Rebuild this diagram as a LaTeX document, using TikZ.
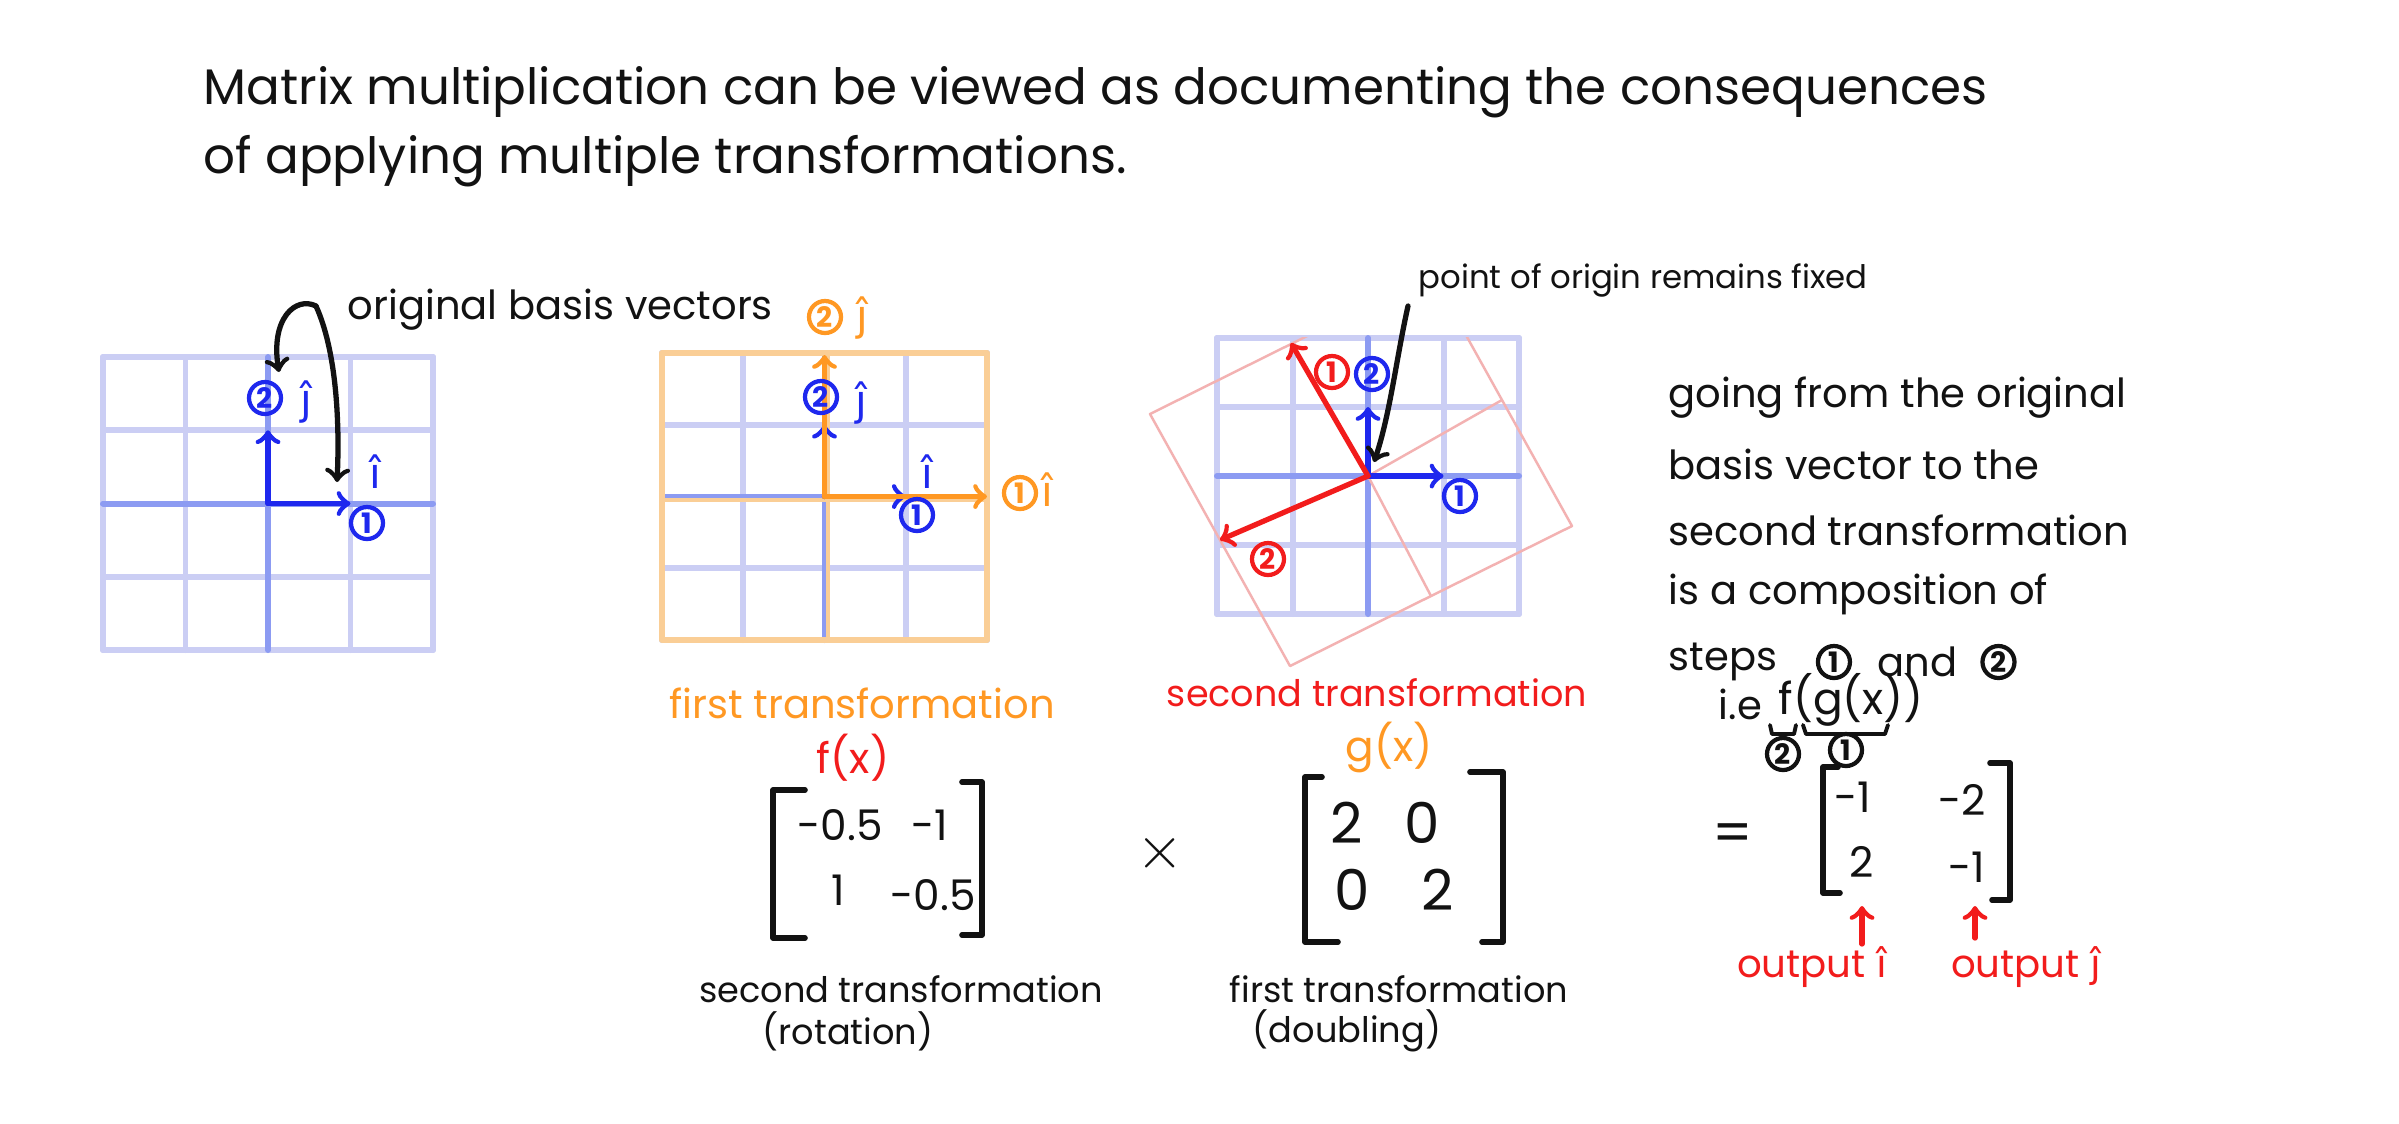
\documentclass[tikz,border=0pt]{standalone}
\usepackage{fontspec}
\setmainfont{Poppins}
\newfontfamily\hatfont{DejaVu Sans}
\usepackage{xcolor}
\usetikzlibrary{arrows}
\usetikzlibrary{math, positioning}
\definecolor{gridblue}{RGB}{203,206,244}
\definecolor{axisblue}{RGB}{140,155,242}
\definecolor{vecblue}{RGB}{30,40,238}
\definecolor{myorange}{RGB}{255,152,35}
\definecolor{lightorange}{RGB}{250,206,150}
\definecolor{myred}{RGB}{242,28,28}
\definecolor{mypink}{RGB}{243,178,178}
\definecolor{ink}{RGB}{18,18,18}

\tikzset{
  gridln/.style={gridblue, line width=1.7pt, line cap=round},
  axisln/.style={axisblue, line width=1.7pt, line cap=round},
  vec/.style={->, line width=1.5pt, line cap=round},
  inkarrow/.style={->, ink, line width=1.5pt, line cap=round},
  bracketln/.style={ink, line width=1.6pt, line cap=round, line join=round},
  circnum/.style={circle, draw, line width=1.2pt, minimum size=0.32cm, inner sep=0pt, font=\fontsize{8}{8}\selectfont\bfseries},
  lbl/.style={ink, font=\fontsize{10}{12}\selectfont, inner sep=0pt},
  biglbl/.style={ink, font=\fontsize{11.4}{13}\selectfont, inner sep=0pt},
  hatlbl/.style={font=\hatfont\fontsize{12}{12}\selectfont, inner sep=0pt},
  entry/.style={ink, font=\fontsize{12}{12}\selectfont, inner sep=0pt},
  bigentry/.style={ink, font=\fontsize{16}{16}\selectfont, inner sep=0pt},
}

\begin{document}
\begin{tikzpicture}[x=0.01cm, y=-0.01cm]
\fill[white] (0,0) rectangle (2399,1123);
\useasboundingbox (0,0) rectangle (2399,1123);

% heading
\node[lbl, anchor=west, font=\fontsize{14.2}{16}\selectfont] (head1) at (203,92) {Matrix multiplication can be viewed as documenting the consequences};
\node[lbl, anchor=west, font=\fontsize{14.2}{16}\selectfont] (head2) at (203,161) {of applying multiple transformations.};

% the three 4x4 grids
\foreach \gx/\gy/\cw/\ch in {103/357/82.5/73.25, 662/353/81.25/71.75, 1217/338/75.5/69}{
  \foreach \k in {0,...,4}{
    \draw[gridln] (\gx+\k*\cw, \gy) -- (\gx+\k*\cw, \gy+4*\ch);
    \draw[gridln] (\gx, \gy+\k*\ch) -- (\gx+4*\cw, \gy+\k*\ch);
  }
  \draw[axisln] (\gx+2*\cw, \gy) -- (\gx+2*\cw, \gy+4*\ch);
  \draw[axisln] (\gx, \gy+2*\ch) -- (\gx+4*\cw, \gy+2*\ch);
}

% grid 1
\coordinate (o1) at (268,503.5);
\coordinate (i1) at (350.5,503.5);
\coordinate (j1) at (268,430.25);
\draw[vec, vecblue] (o1) -- (i1);
\draw[vec, vecblue] (o1) -- (j1);
\node[circnum, vecblue] (j1num) at (265,398) {2};
\node[hatlbl, vecblue] (j1hat) at (306,402) {ĵ};
\node[hatlbl, vecblue] (i1hat) at (375,472) {î};
\node[circnum, vecblue] (i1num) at (367,523) {1};

\node[biglbl, anchor=west] (basis) at (347,310) {original basis vectors};
\coordinate (bstart) at (316,306);
\coordinate (bj) at (279,372);
\coordinate (bi) at (337,482);
\draw[inkarrow] (bstart) .. controls (296,296) and (270,318) .. (bj);
\draw[inkarrow] (bstart) .. controls (336,350) and (340,420) .. (bi);

% grid 2
\draw[lightorange, line width=1.3pt] (662,500) -- (987,500);
\draw[lightorange, line width=1.3pt] (828,353) -- (828,640);
\draw[lightorange, line width=1.8pt, line join=round] (662,353) rectangle (987,640);
\coordinate (o2) at (824.5,496.5);
\coordinate (i2) at (905.75,496.5);
\coordinate (j2) at (824.5,424.75);
\coordinate (i2o) at (987,496.5);
\coordinate (j2o) at (824.5,355);
\draw[vec, vecblue] (o2) -- (i2);
\draw[vec, vecblue] (o2) -- (j2);
\draw[vec, myorange] (o2) -- (i2o);
\draw[vec, myorange] (o2) -- (j2o);
\node[circnum, vecblue] (j2num) at (821,397) {2};
\node[hatlbl, vecblue] (j2hat) at (861,403) {ĵ};
\node[hatlbl, vecblue] (i2hat) at (927,472) {î};
\node[circnum, vecblue] (i2num) at (917,515) {1};
\node[circnum, myorange] (i2onum) at (1020,493) {1};
\node[hatlbl, myorange] (i2ohat) at (1047,490) {î};
\node[circnum, myorange] (j2onum) at (825,317) {2};
\node[hatlbl, myorange] (j2ohat) at (862,318) {ĵ};

% grid 3
\coordinate (o3) at (1368,476);
\begin{scope}
\clip (1100,337) rectangle (1650,720);
\draw[mypink, line width=0.7pt, line join=round] (1150,414) -- (1432,274) -- (1572,526) -- (1290,666) -- cycle;
\draw[mypink, line width=0.7pt] (o3) -- (1502,400);
\draw[mypink, line width=0.7pt] (o3) -- (1431,596);
\end{scope}
\coordinate (i3) at (1443.5,476);
\coordinate (j3) at (1368,407);
\coordinate (r1) at (1291,343);
\coordinate (r2) at (1220,540);
\draw[vec, vecblue] (o3) -- (i3);
\draw[vec, vecblue] (o3) -- (j3);
\draw[vec, myred] (o3) -- (r1);
\draw[vec, myred] (o3) -- (r2);
\node[circnum, vecblue] (j3num) at (1372,374) {2};
\node[circnum, vecblue] (i3num) at (1460,496) {1};
\node[circnum, myred] (r1num) at (1332,372) {1};
\node[circnum, myred] (r2num) at (1268,559) {2};

\node[lbl, anchor=west, font=\fontsize{9.2}{11}\selectfont] (fixed) at (1418,280) {point of origin remains fixed};
\coordinate (fstart) at (1408,306);
\coordinate (ftip) at (1374,462);
\draw[inkarrow] (fstart) .. controls (1396,360) and (1390,415) .. (ftip);

% explanation
\node[biglbl, anchor=west] (para1) at (1668,398) {going from the original};
\node[biglbl, anchor=west] (para2) at (1668,464) {basis vector to the};
\node[biglbl, anchor=west] (para3) at (1668,530) {second transformation};
\node[biglbl, anchor=west] (para4) at (1668,594) {is a composition of};
\node[biglbl, anchor=west] (para5) at (1668,662) {steps};
\node[circnum, ink, right=0.38cm of para5] (stepone) {1};
\node[biglbl, right=0.25cm of stepone] (stepand) {and};
\node[circnum, ink, right=0.22cm of stepand] (steptwo) {2};

\node[biglbl, anchor=west] (ie) at (1718,704) {i.e};
\node[biglbl, anchor=west, font=\fontsize{12.5}{13}\selectfont] (fgx) at (1778,700) {f(g(x))};
\draw[bracketln, line width=1.1pt] (1770,725) -- (1772,734) -- (1794,734) -- (1796,725);
\draw[bracketln, line width=1.1pt] (1803,725) -- (1806,734) -- (1885,734) -- (1888,725);
\node[circnum, ink] (fcirc) at (1783,754) {2};
\node[circnum, ink] (gcirc) at (1846,750) {1};

% result
\node[bigentry] (eq) at (1733,838) {=};
\draw[bracketln] (1838,767) -- (1823,767) -- (1823,893) -- (1840,893);
\draw[bracketln] (1990,763) -- (2010,763) -- (2010,900) -- (1992,900);
\node[entry] (c11) at (1853,797) {-1};
\node[entry] (c12) at (1962,800) {-2};
\node[entry] (c21) at (1862,862) {2};
\node[entry] (c22) at (1967,867) {-1};
\node[lbl, myred, font=\fontsize{11}{12}\selectfont] (outi) at (1812,967) {output {\hatfont î}};
\node[lbl, myred, font=\fontsize{11}{12}\selectfont] (outj) at (2026,967) {output {\hatfont ĵ}};
\coordinate (ai0) at (1862,944);
\coordinate (ai) at (1862,906);
\coordinate (aj0) at (1975,938);
\coordinate (aj) at (1975,906);
\draw[vec, myred] (ai0) -- (ai);
\draw[vec, myred] (aj0) -- (aj);

% rotation matrix
\node[biglbl, myorange] (firstlbl) at (862,703) {first transformation};
\node[lbl, myred, font=\fontsize{12}{14}\selectfont] (fx) at (853,758) {f(x)};
\draw[bracketln] (805,790) -- (773,790) -- (773,938) -- (805,938);
\draw[bracketln] (962,782) -- (982,782) -- (982,935) -- (962,935);
\node[entry] (a11) at (840,825) {-0.5};
\node[entry] (a12) at (930,825) {-1};
\node[entry] (a21) at (838,890) {1};
\node[entry] (a22) at (933,895) {-0.5};
\node[lbl] (rotlbl) at (901,989) {second transformation};
\node[lbl] (rotnote) at (848,1031) {(rotation)};

\node[bigentry] (times) at (1160,853) {$\times$};

% doubling matrix
\node[lbl, myred, font=\fontsize{10.4}{12}\selectfont] (secondlbl) at (1377,693) {second transformation};
\node[lbl, myorange, font=\fontsize{12}{14}\selectfont] (gx) at (1389,747) {g(x)};
\draw[bracketln] (1322,777) -- (1305,777) -- (1305,942) -- (1338,942);
\draw[bracketln] (1470,772) -- (1503,772) -- (1503,942) -- (1482,942);
\node[bigentry] (b11) at (1347,823) {2};
\node[bigentry] (b12) at (1422,823) {0};
\node[bigentry] (b21) at (1352,890) {0};
\node[bigentry] (b22) at (1438,890) {2};
\node[lbl] (dbllbl) at (1399,989) {first transformation};
\node[lbl] (dblnote) at (1347,1031) {(doubling)};
\end{tikzpicture}
\end{document}
